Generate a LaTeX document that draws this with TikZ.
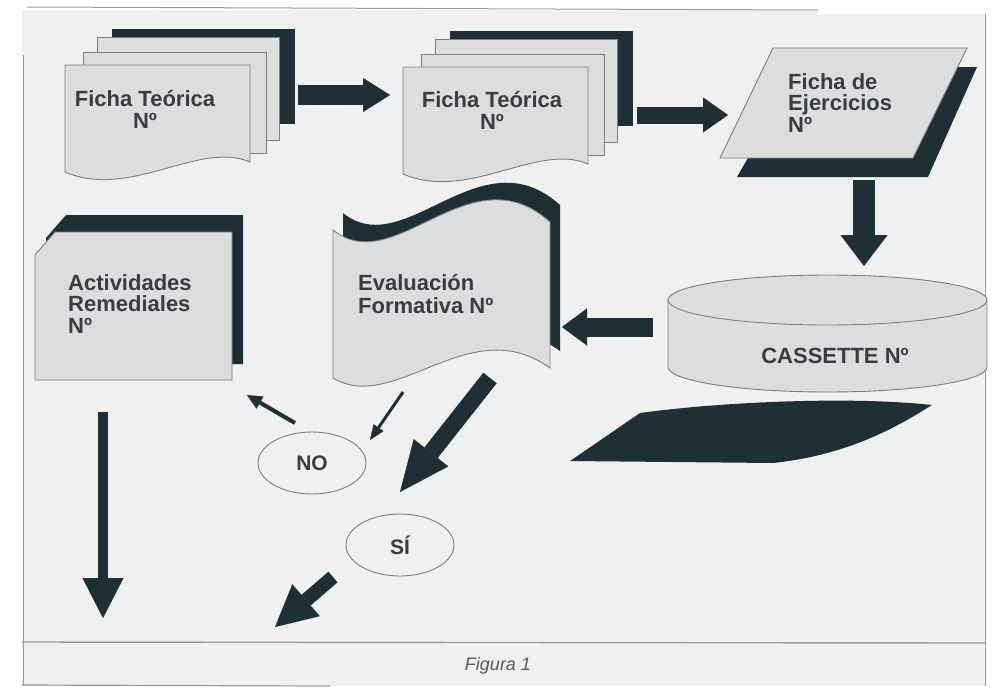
\documentclass[tikz,border=0pt]{standalone}
\usepackage{fontspec}
\setmainfont{Liberation Sans}
\usetikzlibrary{shapes.geometric,arrows.meta}
\definecolor{bgc}{HTML}{EEF0F2}
\definecolor{dk}{HTML}{1E3036}
\definecolor{lt}{HTML}{DCDDDF}
\definecolor{edge}{HTML}{7C7F82}
\definecolor{txt}{HTML}{3A3D40}
\definecolor{frame}{HTML}{9A9DA0}
\tikzset{
  shadowfill/.style={fill=dk},
  sheet/.style={fill=lt, draw=edge, line width=0.9pt},
  lbl/.style={font=\fontsize{22}{21.5}\selectfont\bfseries, text=txt, inner sep=0pt},
  fat/.style n args={3}{draw=dk, line width=#1, -{Triangle[length=#2, width=#3, line width=0.1pt]}},
  thinarrow/.style n args={3}{draw=dk, line width=#1, -{Triangle[length=#2, width=#3, line width=0.1pt]}},
  oval/.style={ellipse, draw=edge, line width=0.9pt, minimum width=108pt, minimum height=62pt, inner sep=0pt,
    font=\fontsize{21}{23}\selectfont\bfseries, text=txt},
}
\newcommand\fichastack{%
  \fill[shadowfill] (112,29) rectangle (295,124);
  \draw[sheet] (97,37) rectangle (279,140);
  \draw[sheet] (83,52) rectangle (266,153);
  \draw[sheet] (65,65) -- (250,65) -- (250,162) .. controls (200,140) and (130,200) .. (65,172) -- cycle;
}
\begin{document}
\begin{tikzpicture}[x=1pt,y=-1pt]
\useasboundingbox (0,0) rectangle (1000,688);
\fill[white] (0,0) rectangle (1000,688);
% frame
\fill[bgc] (22,10) -- (818,10) -- (818,14) -- (986,14) -- (986,686) -- (22,686) -- cycle;
\draw[frame, line width=1pt] (27,7) -- (818,10);
\draw[frame, line width=1pt] (985,14) -- (985,686);
\draw[frame, line width=1pt] (23,55) -- (23,686);
\draw[frame, line width=1.4pt] (22,642) -- (986,643);
\draw[frame, line width=1.2pt] (22,685) -- (330,686);

% stacks
\fichastack
\begin{scope}[shift={(338,2)}]
  \fichastack
\end{scope}
\node[lbl, anchor=base, align=center] (ft1) at (145,128) {Ficha Teórica\\Nº};
\node[lbl, anchor=base, align=center] (ft2) at (492,129) {Ficha Teórica\\Nº};

% parallelogram
\fill[shadowfill] (737,177) -- (928,177) -- (977,67) -- (800,67) -- cycle;
\draw[sheet] (720,158) -- (913,158) -- (967,48) -- (773,48) -- cycle;
\node[lbl, anchor=base west, align=left] (fe) at (788,132) {Ficha de\\Ejercicios\\Nº};

% cassette
\fill[lt] (668,300) -- (668,367) arc[start angle=180, end angle=360, x radius=159.5pt, y radius=25pt] -- (987,300) -- cycle;
\draw[edge, line width=0.9pt] (668,300) -- (668,367) arc[start angle=180, end angle=360, x radius=159.5pt, y radius=25pt] -- (987,300);
\draw[sheet] (827.5,300) ellipse [x radius=159.5pt, y radius=25pt];
\node[lbl, anchor=base] (cas) at (835,363) {CASSETTE Nº};

% boat shadow
\fill[dk] (570,461) -- (640,413) .. controls (720,402) and (850,396) .. (932,405)
  .. controls (900,425) and (850,455) .. (773,463) -- cycle;

% evaluacion
\fill[shadowfill, shift={(10,-17)}] (333,230) .. controls (395,280) and (470,150) .. (550,222) -- (550,368)
  .. controls (470,310) and (395,415) .. (333,378) -- cycle;
\draw[sheet] (333,230) .. controls (395,280) and (470,150) .. (550,222) -- (550,368)
  .. controls (470,310) and (395,415) .. (333,378) -- cycle;
\node[lbl, anchor=base west, align=left, font=\fontsize{22}{23}\selectfont\bfseries] (ev) at (358,313) {Evaluación\\Formativa Nº};

% actividades
\fill[shadowfill] (46,238) -- (66,215) -- (243,215) -- (243,364) -- (46,364) -- cycle;
\draw[sheet] (35,380) -- (35,255) -- (55,232) -- (232,232) -- (232,380) -- cycle;
\node[lbl, anchor=base west, align=left] (ac) at (68,333) {Actividades\\Remediales\\Nº};

% ovals
\node[oval] (no) at (312,463) {NO};
\node[oval] (si) at (400,545) {SÍ};

% caption
\node[font=\fontsize{18}{20}\selectfont\itshape, text=txt!85, inner sep=0pt] (cap) at (498,666) {Figura 1};

% arrow end points
\coordinate (a1s) at (298,95);  \coordinate (a1e) at (390,95);
\coordinate (a2s) at (637,115); \coordinate (a2e) at (728,115);
\coordinate (a3s) at (864,180); \coordinate (a3e) at (864,266);
\coordinate (a4s) at (653,327); \coordinate (a4e) at (562,327);
\coordinate (a5s) at (490,378); \coordinate (a5e) at (400,492);
\coordinate (a6s) at (333,577); \coordinate (a6e) at (275,627);
\coordinate (a7s) at (103,412); \coordinate (a7e) at (103,618);
\coordinate (a8s) at (295,423); \coordinate (a8e) at (247,395);
\coordinate (a9s) at (403,392); \coordinate (a9e) at (370,440);

\draw[fat={20pt}{27pt}{34pt}] (a1s) -- (a1e);
\draw[fat={17pt}{25pt}{35pt}] (a2s) -- (a2e);
\draw[fat={22pt}{31pt}{47pt}] (a3s) -- (a3e);
\draw[fat={19pt}{25pt}{37pt}] (a4s) -- (a4e);
\draw[fat={17pt}{50pt}{44pt}] (a5s) -- (a5e);
\draw[fat={14pt}{41pt}{42pt}] (a6s) -- (a6e);
\draw[fat={10pt}{40pt}{41pt}] (a7s) -- (a7e);
\draw[thinarrow={4pt}{15pt}{14pt}] (a8s) -- (a8e);
\draw[thinarrow={3pt}{15pt}{12pt}] (a9s) -- (a9e);
\end{tikzpicture}
\end{document}
